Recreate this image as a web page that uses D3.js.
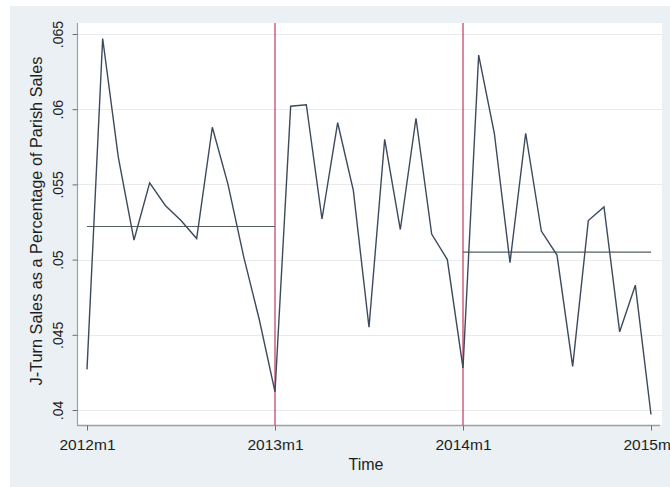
<!DOCTYPE html>
<html>
<head>
<meta charset="utf-8">
<script src="https://cdn.jsdelivr.net/npm/d3@7"></script>
<style>
  html, body { margin: 0; padding: 0; background: #ffffff; }
  svg { display: block; }
  text { font-family: Arial, "Liberation Sans", Helvetica, sans-serif; fill: #1e1e1e; }
</style>
</head>
<body>
<svg id="chart" width="670" height="487"></svg>
<script>
// Monthly J-Turn share of parish sales, 2012m1 .. 2015m1 (month index 0..36)
const monthIndex = d3.range(37);
const shareValues = [
  0.0427, 0.0647, 0.0568, 0.0513, 0.0551, 0.0536, 0.0526, 0.0514, 0.0588, 0.0550, 0.0502, 0.0460,
  0.0412, 0.0602, 0.0603, 0.0527, 0.0591, 0.0546, 0.0455, 0.0580, 0.0520, 0.0594, 0.0517, 0.0500,
  0.0428, 0.0636, 0.0584, 0.0498, 0.0584, 0.0519, 0.0503, 0.0429, 0.0526, 0.0535, 0.0452, 0.0483,
  0.0397
];

// Axis ticks
const xTickIndex = [0, 12, 24, 36];
const xTickLabels = ["2012m1", "2013m1", "2014m1", "2015m1"];
const yTickValues = [0.04, 0.045, 0.05, 0.055, 0.06, 0.065];
const yTickLabels = [".04", ".045", ".05", ".055", ".06", ".065"];

// Period breaks and period means
const breakIndex = [12, 24];
const meanStart = [0, 24];
const meanEnd = [12, 36];
const meanValue = [0.0522, 0.0505];

const svg = d3.select("#chart");

// Plot region bounds
const plot = { left: 78, right: 662, top: 23, bottom: 425 };

const x = d3.scaleLinear().domain([0, 36]).range([87, 651]);
const y = d3.scaleLinear().domain([0.04, 0.065]).range([410, 34]);

// Outer graph background
svg.append("rect")
  .attr("x", 10).attr("y", 6).attr("width", 660).attr("height", 481)
  .attr("fill", "#eaf0f3");

// Plot region
svg.append("rect")
  .attr("x", plot.left).attr("y", plot.top)
  .attr("width", plot.right - plot.left).attr("height", plot.bottom - plot.top)
  .attr("fill", "#ffffff");

// Horizontal gridlines
svg.append("g").selectAll("line")
  .data(yTickValues)
  .join("line")
  .attr("x1", plot.left).attr("x2", plot.right)
  .attr("y1", d => Math.round(y(d)) + 0.5).attr("y2", d => Math.round(y(d)) + 0.5)
  .attr("stroke", "#e6ecee").attr("stroke-width", 1.2);

// Y axis
const yAxis = d3.axisLeft(y)
  .tickValues(yTickValues)
  .tickFormat((d, i) => yTickLabels[i])
  .tickSize(5)
  .tickPadding(6);
const gy = svg.append("g")
  .attr("transform", `translate(${plot.left - 0.5},0)`)
  .call(yAxis);
gy.select(".domain")
  .attr("d", `M0,${plot.top}V${plot.bottom}`)
  .attr("stroke", "#9aa0a3").attr("stroke-width", 1.2);
gy.selectAll(".tick line").attr("stroke", "#6a7073");
gy.selectAll(".tick text")
  .attr("font-size", 14)
  .attr("fill", "#1e1e1e")
  .attr("text-anchor", "middle")
  .attr("x", 0).attr("dy", 0)
  .attr("transform", "translate(-15,0) rotate(-90)");

// X axis
const xAxis = d3.axisBottom(x)
  .tickValues(xTickIndex)
  .tickFormat((d, i) => xTickLabels[i])
  .tickSize(5)
  .tickPadding(8);
const gx = svg.append("g")
  .attr("transform", `translate(0,${plot.bottom + 0.5})`)
  .call(xAxis);
gx.select(".domain")
  .attr("d", `M${plot.left - 1},0H${plot.right - 2}`)
  .attr("stroke", "#9aa0a3").attr("stroke-width", 1.6);
gx.selectAll(".tick line").attr("stroke", "#6a7073");
gx.selectAll(".tick text")
  .attr("font-size", 15.5)
  .attr("fill", "#1e1e1e");

// Axis titles
svg.append("text")
  .attr("x", (plot.left + plot.right) / 2 - 4)
  .attr("y", 470)
  .attr("text-anchor", "middle")
  .attr("font-size", 16)
  .text("Time");

svg.append("text")
  .attr("transform", `translate(42,${(plot.top + plot.bottom) / 2 - 3}) rotate(-90)`)
  .attr("text-anchor", "middle")
  .attr("font-size", 16.3)
  .text("J-Turn Sales as a Percentage of Parish Sales");

// Period breaks
svg.append("g").selectAll("line")
  .data(breakIndex)
  .join("line")
  .attr("x1", d => x(d)).attr("x2", d => x(d))
  .attr("y1", plot.top).attr("y2", plot.bottom)
  .attr("stroke", "#c9456b").attr("stroke-width", 1.3);

// Period means
svg.append("g").selectAll("line")
  .data(meanValue)
  .join("line")
  .attr("x1", (d, i) => x(meanStart[i])).attr("x2", (d, i) => x(meanEnd[i]))
  .attr("y1", d => y(d)).attr("y2", d => y(d))
  .attr("stroke", "#56605f").attr("stroke-width", 1.2);

// Series line
const line = d3.line()
  .x((d, i) => x(monthIndex[i]))
  .y(d => y(d));
svg.append("path")
  .datum(shareValues)
  .attr("d", line)
  .attr("fill", "none")
  .attr("stroke", "#3c4a5c")
  .attr("stroke-width", 1.4)
  .attr("stroke-linejoin", "miter");
</script>
</body>
</html>
